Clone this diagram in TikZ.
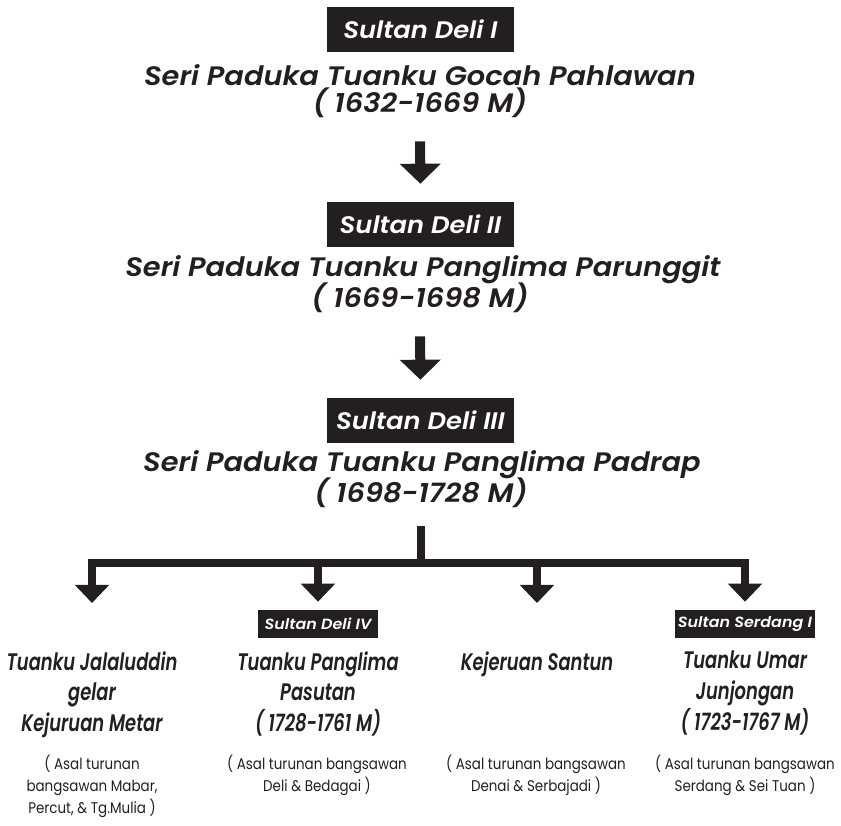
\documentclass[tikz,border=0pt]{standalone}
\usepackage{fontspec}
\setmainfont{Poppins}
\newfontfamily\judul{Poppins SemiBold Italic}[FakeStretch=1.08]
\newfontfamily\sempit{Poppins SemiBold Italic}[FakeStretch=0.75]
\newfontfamily\tipis{Poppins}[FakeStretch=0.87]
\usetikzlibrary{arrows.meta,positioning}
\definecolor{ink}{HTML}{231F20}

\begin{document}
\begin{tikzpicture}[x=0.025cm, y=-0.025cm,
    sultan/.style={fill=ink, text=white, inner sep=0pt, minimum width=4.675cm, minimum height=1.125cm, font=\judul\fontsize{17}{20}\selectfont},
    subsultan/.style={fill=ink, text=white, inner sep=0pt, minimum height=0.7cm, font=\judul\fontsize{10.5}{12}\selectfont},
    gelar/.style={text=ink, inner sep=0pt, font=\judul\fontsize{19}{23}\selectfont},
    anak/.style={text=ink, inner sep=0pt, align=center, anchor=north, font=\sempit\fontsize{17}{22}\selectfont},
    asal/.style={text=ink, inner sep=0pt, align=center, anchor=north, font=\tipis\fontsize{11}{15.6}\selectfont},
    turun/.style={-{Triangle[width=1cm,length=0.5cm]}, line width=0.25cm, ink},
    cabang/.style={-{Triangle[width=0.83cm,length=0.45cm]}, line width=0.22cm, ink},
]
\useasboundingbox (0,0) rectangle (841,825);

\node[sultan] (s1) at (420.5,29.5) {Sultan Deli I};
\node[gelar] (n1) at (420,75) {Seri Paduka Tuanku Gocah Pahlawan};
\node[gelar] (d1) at (420,103) {( 1632-1669 M)};

\node[sultan] (s2) at (420.5,224.5) {Sultan Deli II};
\node[gelar] (n2) at (423,270) {Seri Paduka Tuanku Panglima Parunggit};
\node[gelar] (d2) at (420,298) {( 1669-1698 M)};

\node[sultan] (s3) at (420.5,420.5) {Sultan Deli III};
\node[gelar] (n3) at (422,465) {Seri Paduka Tuanku Panglima Padrap};
\node[gelar] (d3) at (421,493) {( 1698-1728 M)};

\draw[turun, shorten <=0.575cm, shorten >=0.45cm] (d1) -- (s2);
\draw[turun, shorten <=0.575cm, shorten >=0.45cm] (d2) -- (s3);

% anak-anak Sultan Deli III
\node[subsultan, minimum width=3cm] (b2) at (318,624) {Sultan Deli IV};
\node[subsultan, minimum width=3.5cm] (b4) at (745,624) {Sultan Serdang I};

\node[anak] (k1) at (92,651) {Tuanku Jalaluddin\\gelar\\Kejuruan Metar};
\node[anak] (k2) at (318,651) {Tuanku Panglima\\Pasutan\\( 1728-1761 M)};
\node[anak] (k3) at (537,651) {Kejeruan Santun};
\node[anak] (k4) at (745,651) {Tuanku Umar\\Junjongan\\( 1723-1767 M)};

\node[asal] (a1) at (92,755) {( Asal turunan\\bangsawan Mabar,\\Percut, \& Tg.Mulia )};
\node[asal] (a2) at (317,755) {( Asal turunan bangsawan\\Deli \& Bedagai )};
\node[asal] (a3) at (536,755) {( Asal turunan bangsawan\\Denai \& Serbajadi )};
\node[asal] (a4) at (745,755) {( Asal turunan bangsawan\\Serdang \& Sei Tuan )};

\coordinate (pokok) at (421,563);
\draw[line width=0.22cm, ink, shorten <=0.45cm] (d3) -- (pokok);
\draw[cabang, shorten >=1.2cm] (pokok) -| (k1);
\draw[cabang, shorten >=0.2cm] (pokok) -| (b2);
\draw[cabang, shorten >=1.2cm] (pokok) -| (k3);
\draw[cabang, shorten >=0.2cm] (pokok) -| (b4);
\end{tikzpicture}
\end{document}
